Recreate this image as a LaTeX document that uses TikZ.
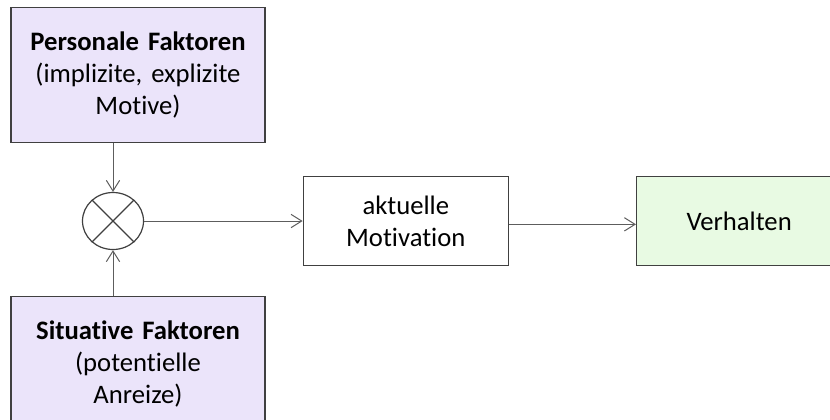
\documentclass[tikz,border=0pt]{standalone}
\usepackage{fontspec}
\setmainfont{Carlito}[Ligatures=NoCommon]
\usepackage{tikz}
\usetikzlibrary{arrows.meta, positioning, shapes.geometric}
\definecolor{cPers}{HTML}{EBE4FA}
\definecolor{cVerh}{HTML}{E8FAE3}
\definecolor{cLine}{HTML}{404040}

\begin{document}
\begin{tikzpicture}[
  font=\fontsize{20}{24}\selectfont,
  >={Straight Barb[length=8pt, width=10pt]},
  box/.style    = {rectangle, draw=cLine, line width=1pt, align=center, inner sep=4pt},
  faktor/.style = {box, fill=cPers, minimum width=190.5pt, minimum height=101.25pt,
                   text width=182pt},
  proc/.style   = {box, fill=white, minimum width=153.75pt, minimum height=66.75pt},
  result/.style = {proc, fill=cVerh},
  mult/.style   = {ellipse, draw=cLine, line width=0.9pt, fill=white, inner sep=0pt,
                   minimum width=45.75pt, minimum height=42.75pt},
  arr/.style    = {->, draw=cLine!85, line width=0.75pt}]

\useasboundingbox (0,0) rectangle (622.5pt,-314.25pt);

% ---- the multiplication point --------------------------------------------
\node[mult] (circ) at (84.75pt,-165.75pt) {};
\draw[cLine, line width=0.9pt] (circ.45) -- (circ.225) (circ.135) -- (circ.315);

% ---- the two factors -------------------------------------------------------
\node[faktor, above=36.4pt of circ, xshift=18.75pt] (pers)
  {\textbf{Personale Faktoren}\\(implizite, explizite\\Motive)};
\node[faktor, below=34.1pt of circ, xshift=18.75pt] (sit)
  {\textbf{Situative Faktoren}\\(potentielle\\Anreize)};

% ---- motivation and behaviour ---------------------------------------------
\node[proc, right=118.9pt of circ] (motiv) {aktuelle\\Motivation};
\node[result, right=95.25pt of motiv] (verh) {Verhalten};

% arrows
\draw[arr] (pers.south -| circ) -- (circ);
\draw[arr] (sit.north -| circ) -- (circ);
\draw[arr] (circ) -- (motiv);
\draw[arr] ([yshift=-2.5pt]motiv.east) -- ([yshift=-2.5pt]verh.west);

\end{tikzpicture}
\end{document}
